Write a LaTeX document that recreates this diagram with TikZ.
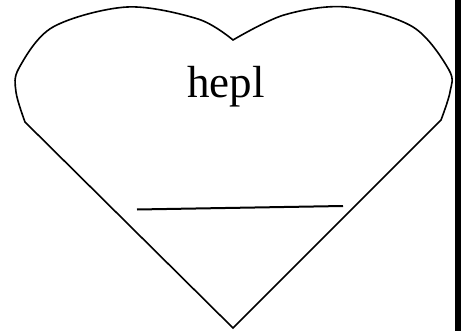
\documentclass[tikz,border=0pt]{standalone}
\usepackage{fontspec}
\setmainfont{Liberation Serif}
\begin{document}
\begin{tikzpicture}[x=1pt,y=-1pt,
  outline/.style={line width=1.6pt, line join=miter},
  bar/.style={fill=black, draw=none},
  underline/.style={line width=2pt},
  lbl/.style={anchor=base, inner sep=0pt, font=\fontsize{45}{54}\selectfont}]
\useasboundingbox (0,0) rectangle (462,331);
\coordinate (tip) at (233,328);
\coordinate (notch) at (233,40);
\coordinate (lb) at (25,122);
\coordinate (rb) at (441,120);
\draw[outline] (tip) -- plot[smooth, tension=0.55] coordinates {(25,122) (16,92) (19,68) (53,27) (127,7) (198,19) (233,40)}
  -- plot[smooth, tension=0.55] coordinates {(233,40) (284,15) (346,7) (413,27) (449,70) (450,92) (441,120)} -- cycle;
\node[lbl] (title) at (226,98) {hepl};
\coordinate (ua) at (137,209.5);
\coordinate (ub) at (343,206);
\draw[underline] (ua) -- (ub);
\path[bar] (455,0) rectangle (461,331);
\end{tikzpicture}
\end{document}
